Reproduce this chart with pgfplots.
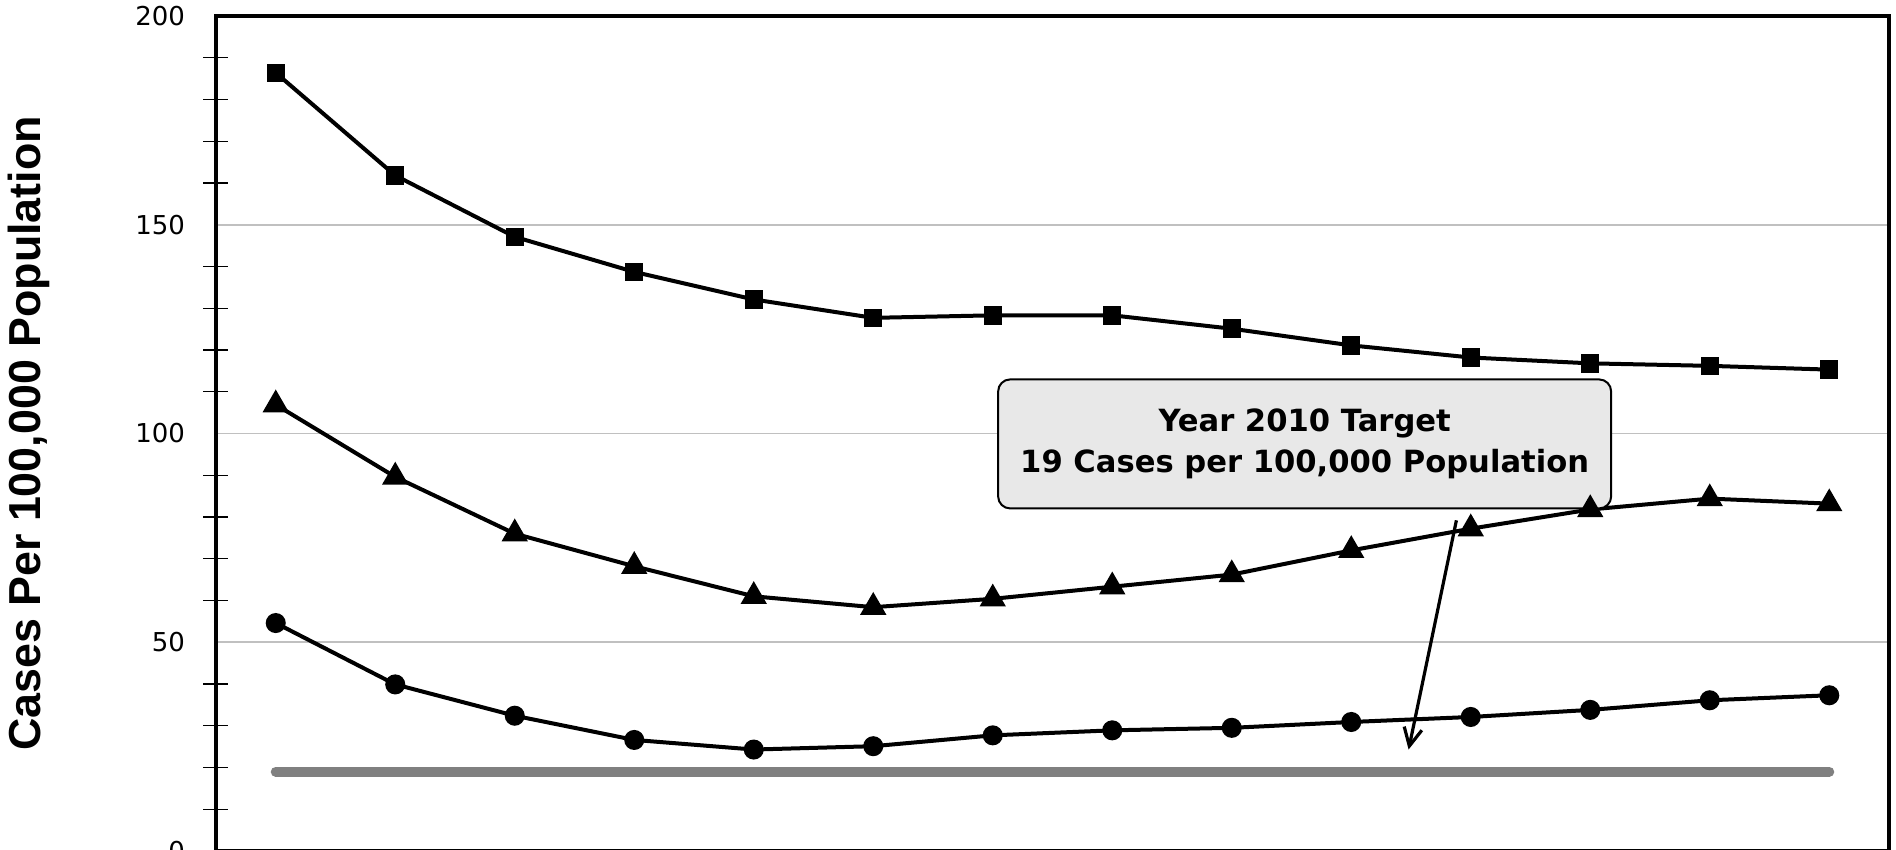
\documentclass[border=0pt]{standalone}
\usepackage{fontspec}
\setmainfont{DejaVu Sans}
\newfontfamily\labfont{Liberation Sans}
\usepackage{pgfplots}
\pgfplotsset{compat=1.18}
\usetikzlibrary{arrows.meta}
\definecolor{gridgray}{HTML}{C0C0C0}
\definecolor{targetgray}{HTML}{808080}
\definecolor{boxfill}{HTML}{E8E8E8}
\begin{document}
\begin{tikzpicture}
\begin{axis}[
  at={(0,0)}, anchor=south west,
  scale only axis, width=836.5pt, height=417.5pt,
  xmin=-0.5, xmax=13.5, ymin=0, ymax=200,
  xtick=\empty,
  ytick pos=left,
  ytick={0,50,100,150,200},
  minor ytick={10,20,30,40,60,70,80,90,110,120,130,140,160,170,180,190},
  ymajorgrids,
  major grid style={draw=gridgray, line width=0.9pt},
  major tick length=0pt,
  minor tick length=12.5pt,
  tick align=center,
  minor tick style={black, line width=0.6pt},
  axis line style={line width=1.8pt},
  /pgf/number format/assume math mode=true,
  yticklabel style={font=\fontsize{13}{15}\selectfont, xshift=-12pt},
  ylabel={\labfont\bfseries Cases Per 100,000 Population},
  ylabel style={font=\fontsize{22.4}{26}\selectfont, at={(axis description cs:-0.1118,0.5)}, anchor=center},
  clip=false,
]
\addplot[targetgray, line width=5pt, line cap=round] coordinates {(0,19) (13,19)};
\addplot[black, line width=2pt, mark=square*, mark size=3.6pt] coordinates {
(0,186.4) (1,161.8) (2,147.1) (3,138.7) (4,132.1) (5,127.7) (6,128.3) (7,128.3) (8,125.1) (9,121.1) (10,118.2) (11,116.8) (12,116.2) (13,115.3)};
\addplot[black, line width=2pt, mark=triangle*, mark size=5.6pt] coordinates {
(0,106.9) (1,89.6) (2,76.0) (3,68.2) (4,61.0) (5,58.4) (6,60.4) (7,63.3) (8,66.2) (9,72.0) (10,77.2) (11,81.8) (12,84.4) (13,83.2)};
\addplot[black, line width=2pt, mark=*, mark size=4pt] coordinates {
(0,54.6) (1,39.9) (2,32.4) (3,26.6) (4,24.3) (5,25.1) (6,27.7) (7,28.9) (8,29.5) (9,30.9) (10,32.1) (11,33.8) (12,36.1) (13,37.3)};
\draw[black, line width=1.6pt, -{Straight Barb[length=9pt,width=9pt]}] (axis cs:9.88,79.2) -- (axis cs:9.48,24.3);
\node[draw=black, line width=1pt, fill=boxfill, rounded corners=6pt, minimum width=306.5pt, minimum height=64.5pt, align=center, font=\fontsize{15.3}{20.5}\selectfont\bfseries] at (axis cs:8.61,97.5) {Year 2010 Target\\19 Cases per 100,000 Population};
\end{axis}
\pgfresetboundingbox
\useasboundingbox (-108pt,0.5pt) rectangle (840pt,425.5pt);
\end{tikzpicture}
\end{document}
